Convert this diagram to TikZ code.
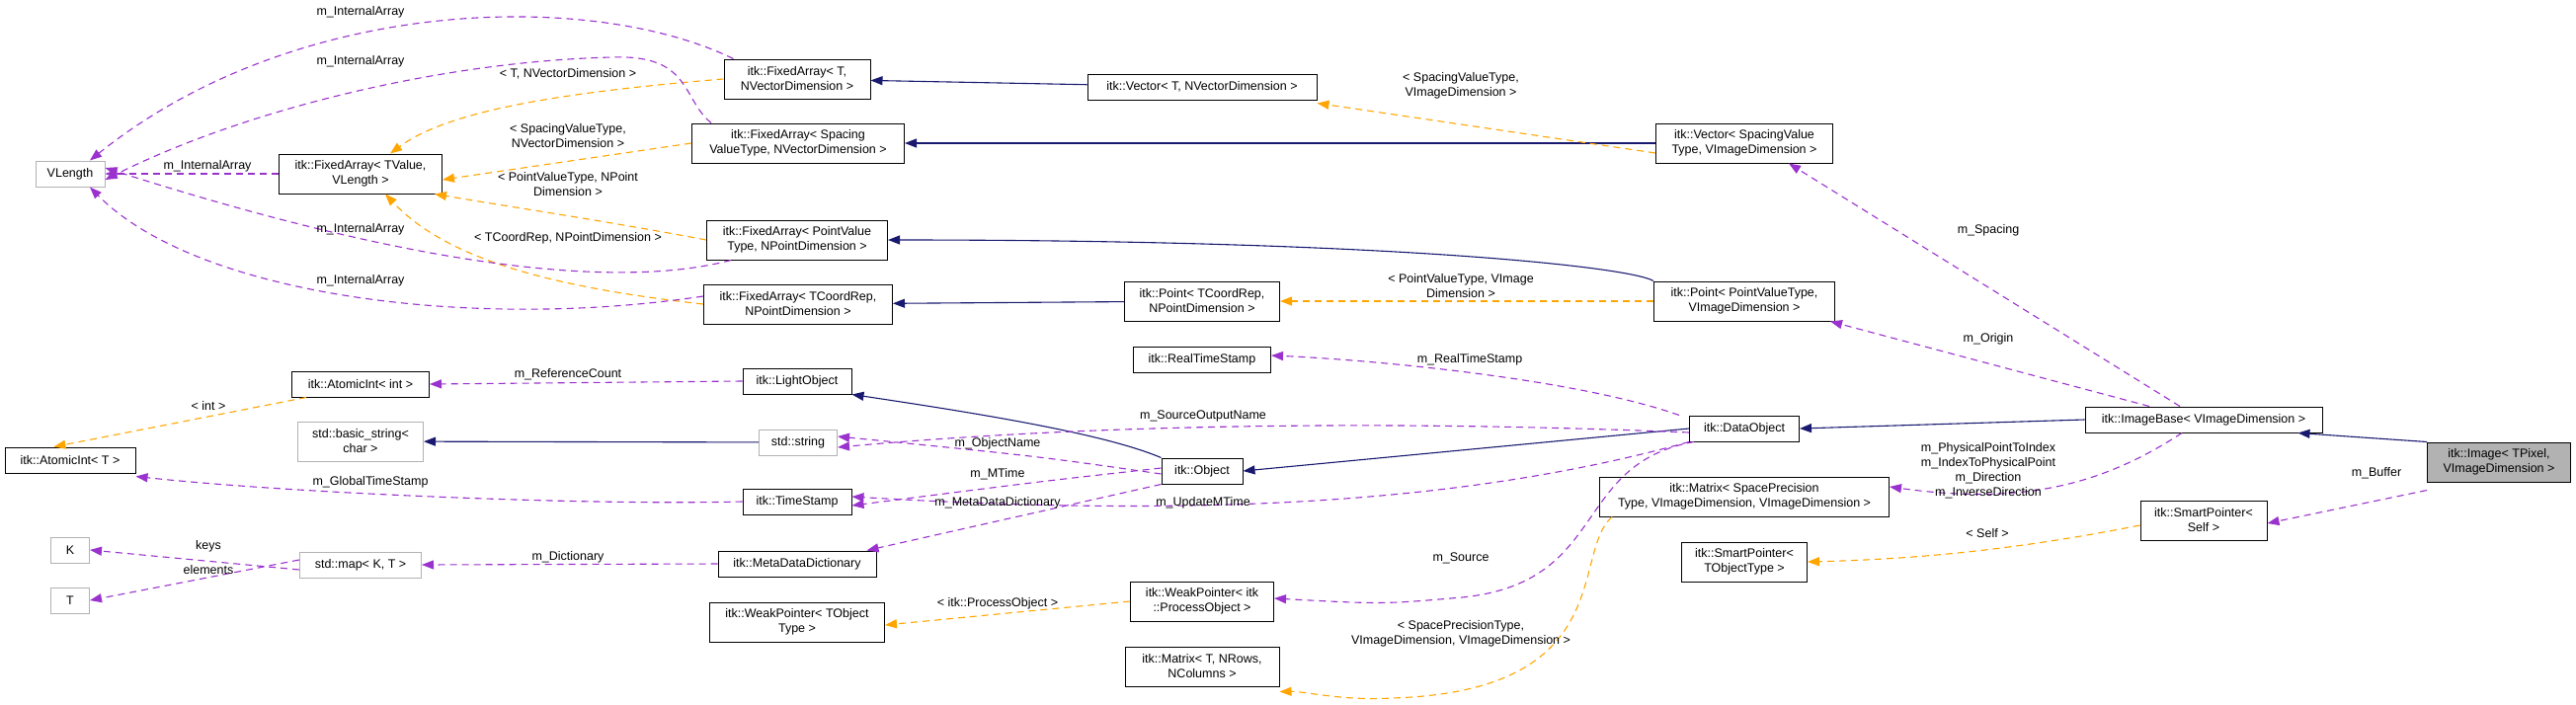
\documentclass[tikz,border=0pt]{standalone}
\usepackage{fontspec}
\setmainfont{Liberation Sans}
\usetikzlibrary{arrows.meta}
\usetikzlibrary{positioning}

\definecolor{usecol}{HTML}{9A32CD}
\definecolor{tplcol}{HTML}{FFA500}
\definecolor{inhcol}{HTML}{191970}

\tikzset{
  cls/.style={draw, line width=1pt, align=center, inner sep=1pt, minimum height=26pt, font=\fontsize{12.5}{15}\selectfont},
  cls2/.style={cls, minimum height=40pt},
  ext/.style={draw=gray!60},
  lbl/.style={align=center, inner sep=0pt, font=\fontsize{12.5}{15}\selectfont},
  use/.style={usecol, dashed, dash pattern=on 7pt off 5pt, line width=1.1pt, -{Triangle[length=12pt,width=9pt]}},
  tpl/.style={use, draw=tplcol, -{Triangle[length=12pt,width=9pt,fill=tplcol]}},
  inh/.style={inhcol, line width=1.1pt, -{Triangle[length=12pt,width=9pt]}},
}

\begin{document}
\begin{tikzpicture}[x=1pt, y=-1pt]
  \useasboundingbox (0,0) rectangle (2608,713);

  % left column
  \node[cls, ext, minimum width=70pt]  (vlen)  at (71,176)  {VLength};
  \node[cls, minimum width=132pt]      (aiT)   at (71,466)  {itk::AtomicInt< T >};
  \node[cls, ext, minimum width=39pt]  (kkey)  at (71,557)  {K};
  \node[cls, ext, minimum width=39pt]  (tval)  at (71,608)  {T};

  % second column
  \node[cls2, minimum width=165pt]     (fatv)  at (365,176) {itk::FixedArray< TValue,\\VLength >};
  \node[cls, minimum width=139pt]      (aiInt) at (365,389) {itk::AtomicInt< int >};
  \node[cls2, ext, minimum width=127pt] (bstr) at (365,447) {std::basic\_string<\\char >};
  \node[cls, ext, minimum width=123pt] (smap)  at (365,572) {std::map< K, T >};

  % third column
  \node[cls2, minimum width=148pt]     (fatn)  at (807,80)  {itk::FixedArray< T,\\NVectorDimension >};
  \node[cls2, minimum width=215pt]     (fasp)  at (808,145) {itk::FixedArray< Spacing\\ValueType, NVectorDimension >};
  \node[cls2, minimum width=183pt]     (fapv)  at (807,243) {itk::FixedArray< PointValue\\Type, NPointDimension >};
  \node[cls2, minimum width=191pt]     (fatc)  at (808,308) {itk::FixedArray< TCoordRep,\\NPointDimension >};
  \node[cls, minimum width=110pt]      (lobj)  at (807,386) {itk::LightObject};
  \node[cls, ext, minimum width=79pt]  (sstr)  at (808,448) {std::string};
  \node[cls, minimum width=110pt]      (tstp)  at (807,508) {itk::TimeStamp};
  \node[cls, minimum width=160pt]      (mdd)   at (807,571) {itk::MetaDataDictionary};
  \node[cls2, minimum width=177pt]     (wpto)  at (807,630) {itk::WeakPointer< TObject\\Type >};

  % fourth column
  \node[cls, minimum width=232pt]      (vecT)  at (1217,88)  {itk::Vector< T, NVectorDimension >};
  \node[cls2, minimum width=157pt]     (ptTC)  at (1217,305) {itk::Point< TCoordRep,\\NPointDimension >};
  \node[cls, minimum width=139pt]      (rts)   at (1217,364) {itk::RealTimeStamp};
  \node[cls, minimum width=82pt]       (obj)   at (1217,477) {itk::Object};
  \node[cls2, minimum width=145pt]     (wppo)  at (1217,609) {itk::WeakPointer< itk\\::ProcessObject >};
  \node[cls2, minimum width=156pt]     (matT)  at (1217,675) {itk::Matrix< T, NRows,\\NColumns >};

  % fifth column
  \node[cls2, minimum width=179pt]     (vecSp) at (1766,145) {itk::Vector< SpacingValue\\Type, VImageDimension >};
  \node[cls2, minimum width=183pt]     (ptPV)  at (1766,305) {itk::Point< PointValueType,\\VImageDimension >};
  \node[cls, minimum width=111pt]      (dobj)  at (1766,434) {itk::DataObject};
  \node[cls2, minimum width=293pt]     (matSP) at (1766,503) {itk::Matrix< SpacePrecision\\Type, VImageDimension, VImageDimension >};
  \node[cls2, minimum width=127pt]     (spTO)  at (1766,569) {itk::SmartPointer<\\TObjectType >};

  % right
  \node[cls, minimum width=240pt]      (ibase) at (2231,425) {itk::ImageBase< VImageDimension >};
  \node[cls2, minimum width=128pt]     (spS)   at (2231,527) {itk::SmartPointer<\\Self >};
  \node[cls2, fill=gray!60, minimum width=145pt] (img) at (2530,468) {itk::Image< TPixel,\\VImageDimension >};

  % inheritance
  \draw[inh] (vecT) -- (fatn);
  \draw[inh] (vecSp) -- (fasp);
  \draw[inh] (ptPV.north west) .. controls (1650,270) and (1400,243) .. (fapv.east);
  \draw[inh] (ptTC) -- (fatc);
  \draw[inh] (obj.north west) .. controls (1120,440) and (1000,420) .. (lobj.south east);
  \draw[inh] (sstr) -- (bstr);
  \draw[inh] (dobj.west) -- (obj.east);
  \draw[inh] (ibase.west) -- (dobj.east);
  \draw[inh] (img.north west) -- ([xshift=-25pt]ibase.south east);

  % templates
  \draw[tpl] (fatn.west) .. controls (550,95) and (450,115) .. ([xshift=30pt]fatv.north);
  \draw[tpl] (fasp.west) -- ([yshift=-6pt]fatv.east);
  \draw[tpl] (fapv.west) .. controls (620,225) and (520,210) .. ([xshift=-8pt]fatv.south east);
  \draw[tpl] (fatc.west) .. controls (550,290) and (450,260) .. ([xshift=25pt]fatv.south);
  \draw[tpl] ([xshift=15pt]aiInt.south west) -- ([xshift=50pt]aiT.north west);
  \draw[tpl] (wppo.west) -- ([yshift=-3pt]wpto.east);
  \draw[tpl] ([yshift=-10pt]vecSp.west) -- ([yshift=-3pt]vecT.south east);
  \draw[tpl] (ptPV.west) -- (ptTC.east);
  \draw[tpl] ([xshift=13pt]matSP.south west) .. controls (1590,560) and (1640,700) .. (1409,707) .. controls (1360,710) and (1320,700) .. ([yshift=-5pt]matT.south east);
  \draw[tpl] ([yshift=-5pt]spS.west) .. controls (2050,555) and (1950,566) .. (spTO.east);

  % usage
  \draw[use] ([xshift=10pt]fatn.north west) .. controls (600,-10) and (300,-5) .. ([xshift=20pt]vlen.north);
  \draw[use] ([xshift=20pt]fasp.north west) .. controls (690,100) and (700,55) .. (620,58) .. controls (450,62) and (250,110) .. ([yshift=-6pt]vlen.east);
  \draw[use] (fatv.west) -- (vlen.east);
  \draw[use] ([xshift=25pt]fapv.south west) .. controls (640,290) and (450,280) .. ([yshift=6pt]vlen.east);
  \draw[use] ([yshift=8pt]fatc.west) .. controls (480,335) and (200,300) .. ([xshift=20pt]vlen.south);
  \draw[use] (lobj.west) -- (aiInt.east);
  \draw[use] (tstp.west) .. controls (600,512) and (300,500) .. ([yshift=-3pt]aiT.south east);
  \draw[use] ([yshift=-5pt]smap.west) -- (kkey.east);
  \draw[use] ([yshift=5pt]smap.west) -- (tval.east);
  \draw[use] (mdd.west) -- (smap.east);
  \draw[use] ([yshift=-3pt]obj.west) .. controls (1050,462) .. ([yshift=6pt]sstr.east);
  \draw[use] ([yshift=3pt]obj.west) .. controls (1050,488) .. ([yshift=-4pt]tstp.east);
  \draw[use] (obj.south west) -- ([xshift=-10pt]mdd.north east);
  \draw[use] ([xshift=-10pt]dobj.north west) .. controls (1600,385) and (1400,365) .. ([yshift=4pt]rts.east);
  \draw[use] ([yshift=-4pt]dobj.west) .. controls (1400,425) and (1100,430) .. ([yshift=-5pt]sstr.east);
  \draw[use] (dobj.south west) .. controls (1450,520) and (1150,520) .. ([yshift=5pt]tstp.east);
  \draw[use] ([xshift=5pt]dobj.south west) .. controls (1590,470) and (1630,590) .. (1480,605) .. controls (1400,612) .. ([yshift=3pt]wppo.east);
  \draw[use] ([xshift=-24pt]ibase.north) -- ([xshift=45pt]vecSp.south);
  \draw[use] ([xshift=-55pt]ibase.north) -- ([xshift=-5pt]ptPV.south east);
  \draw[use] ([xshift=-22pt]ibase.south) .. controls (2130,490) and (2050,512) .. ([yshift=10pt]matSP.east);
  \draw[use] ([yshift=-8pt]img.south west) -- ([yshift=-3pt]spS.east);

  % labels
  \node[lbl] (l1)  at (365,12)   {m\_InternalArray};
  \node[lbl] (l2)  at (365,62)   {m\_InternalArray};
  \node[lbl] (l3)  at (210,168)  {m\_InternalArray};
  \node[lbl] (l4)  at (365,232)  {m\_InternalArray};
  \node[lbl] (l5)  at (365,284)  {m\_InternalArray};
  \node[lbl] (l6)  at (575,75)   {< T, NVectorDimension >};
  \node[lbl] (l7)  at (575,138)  {< SpacingValueType,\\NVectorDimension >};
  \node[lbl] (l8)  at (575,187)  {< PointValueType, NPoint\\Dimension >};
  \node[lbl] (l9)  at (575,241)  {< TCoordRep, NPointDimension >};
  \node[lbl] (l10) at (575,379)  {m\_ReferenceCount};
  \node[lbl] (l11) at (211,411)  {< int >};
  \node[lbl] (l12) at (375,488)  {m\_GlobalTimeStamp};
  \node[lbl] (l13) at (211,553)  {keys};
  \node[lbl] (l14) at (211,577)  {elements};
  \node[lbl] (l15) at (575,564)  {m\_Dictionary};
  \node[lbl] (l16) at (1010,449) {m\_ObjectName};
  \node[lbl] (l17) at (1010,480) {m\_MTime};
  \node[lbl] (l18) at (1010,509) {m\_MetaDataDictionary};
  \node[lbl] (l19) at (1010,611) {< itk::ProcessObject >};
  \node[lbl] (l20) at (1479,87)  {< SpacingValueType,\\VImageDimension >};
  \node[lbl] (l21) at (1479,290) {< PointValueType, VImage\\Dimension >};
  \node[lbl] (l22) at (1488,364) {m\_RealTimeStamp};
  \node[lbl] (l23) at (1218,421) {m\_SourceOutputName};
  \node[lbl] (l24) at (1218,509) {m\_UpdateMTime};
  \node[lbl] (l25) at (1479,565) {m\_Source};
  \node[lbl] (l26) at (1479,642) {< SpacePrecisionType,\\VImageDimension, VImageDimension >};
  \node[lbl] (l27) at (2013,233) {m\_Spacing};
  \node[lbl] (l28) at (2013,343) {m\_Origin};
  \node[lbl] (l29) at (2013,477) {m\_PhysicalPointToIndex\\m\_IndexToPhysicalPoint\\m\_Direction\\m\_InverseDirection};
  \node[lbl] (l30) at (2406,479) {m\_Buffer};
  \node[lbl] (l31) at (2012,540) {< Self >};
\end{tikzpicture}
\end{document}
